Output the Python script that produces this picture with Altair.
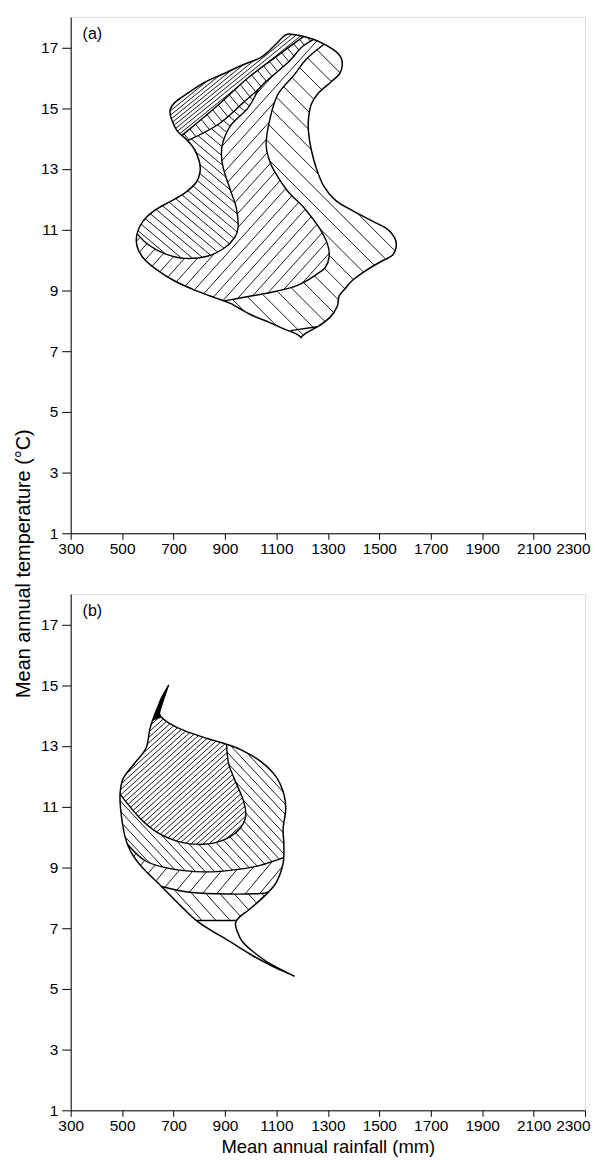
import numpy as np
import pandas as pd
import altair as alt

# ---------------- axes ----------------
X_TICKS = [300, 500, 700, 900, 1100, 1300, 1500, 1700, 1900, 2100, 2300]
Y_TICKS = [1, 3, 5, 7, 9, 11, 13, 15, 17]
X_DOMAIN = [300, 2300]
Y_DOMAIN = [1, 18]
PANEL_LABELS = ["(a)", "(b)"]
Y_TITLE = "Mean annual temperature (°C)"
X_TITLE = "Mean annual rainfall (mm)"

# ---------------- panel (a) ----------------
A_OUT_X = [1136, 1173, 1218, 1268, 1320, 1350, 1356, 1345, 1311, 1262, 1236, 1225, 1225, 1236, 1255, 1284, 1329,
           1396, 1477, 1529, 1559, 1566, 1551, 1514, 1455, 1396, 1366, 1344, 1336, 1307, 1262, 1218, 1196, 1196,
           1173, 1129, 1070, 995, 921, 862, 773, 699, 625, 580, 558, 558, 580, 625, 684, 743, 788, 803, 800, 780,
           751, 714, 691, 687, 706, 743, 817, 892, 966, 1040, 1092]
A_OUT_Y = [17.41, 17.41, 17.33, 17.18, 16.93, 16.68, 16.40, 16.12, 15.85, 15.48, 15.13, 14.66, 14.19, 13.61, 13.02,
           12.43, 11.97, 11.62, 11.26, 11.03, 10.74, 10.45, 10.15, 9.98, 9.69, 9.33, 9.04, 8.81, 8.46, 8.10, 7.81,
           7.61, 7.46, 7.46, 7.58, 7.73, 7.95, 8.22, 8.57, 8.75, 9.04, 9.33, 9.74, 10.09, 10.45, 10.86, 11.26, 11.62,
           11.91, 12.20, 12.55, 12.90, 13.25, 13.66, 13.96, 14.25, 14.66, 14.95, 15.19, 15.42, 15.83, 16.12, 16.41,
           16.67, 17.05]
A_S1_X = [733, 860, 989, 1118, 1205]
A_S1_Y = [14.10, 15.00, 15.99, 16.81, 17.35]
A_S2_X = [755, 873, 970, 1030, 1060, 1150, 1195, 1243]
A_S2_Y = [13.93, 14.46, 15.17, 15.62, 15.88, 16.54, 16.98, 17.25]
A_C2_X = [1030, 989, 925, 893, 886, 893, 918, 944, 951, 937, 899, 835, 744, 667, 602, 560]
A_C2_Y = [15.62, 15.00, 14.46, 13.91, 13.50, 13.03, 12.37, 11.71, 11.06, 10.73, 10.40, 10.13, 10.05, 10.20, 10.50, 10.85]
A_C3_X = [1285, 1215, 1170, 1105, 1073, 1060, 1072, 1092, 1144, 1208, 1266, 1299, 1305, 1290, 1260, 1215, 1170,
          1100, 1041, 980, 930, 893]
A_C3_Y = [17.10, 16.60, 16.10, 15.44, 14.57, 13.80, 13.30, 12.92, 12.26, 11.71, 11.06, 10.51, 10.10, 9.75, 9.55,
          9.30, 9.12, 8.97, 8.87, 8.78, 8.70, 8.65]
A_TIP_X = [1155, 1258]
A_TIP_Y = [7.67, 7.80]

# ---------------- panel (b) ----------------
B_OUT_X = [678, 678, 668, 653, 645, 653, 682, 742, 831, 906, 965, 1040, 1099, 1129, 1136, 1126, 1129, 1126, 1099,
           1054, 994, 956, 941, 947, 968, 1010, 1080, 1159, 1159, 1085, 1010, 920, 801, 727, 653, 578, 534, 511,
           496, 492, 504, 548, 593, 608, 623, 638, 653]
B_OUT_Y = [14.95, 14.95, 14.70, 14.32, 14.07, 13.94, 13.75, 13.50, 13.24, 13.05, 12.86, 12.48, 11.98, 11.41, 10.90,
           10.27, 9.76, 9.13, 8.50, 8.06, 7.61, 7.36, 7.17, 6.90, 6.55, 6.22, 5.80, 5.46, 5.46, 5.74, 6.08, 6.55,
           7.17, 7.74, 8.37, 9.00, 9.51, 10.02, 10.78, 11.41, 11.92, 12.42, 12.93, 13.56, 13.94, 14.26, 14.57]
B_WEDGE_X = [619, 653]
B_WEDGE_Y = [13.85, 13.94]
B_C1_X = [492, 566, 638, 727, 816, 891, 951, 980, 973, 936, 914, 906]
B_C1_Y = [11.41, 10.65, 10.14, 9.83, 9.76, 9.89, 10.21, 10.65, 11.16, 11.92, 12.42, 13.05]
B_C2_X = [522, 593, 697, 816, 920, 1025, 1127]
B_C2_Y = [9.75, 9.20, 8.94, 8.85, 8.90, 9.04, 9.32]
B_C3_X = [653, 772, 920, 1040, 1068]
B_C3_Y = [8.37, 8.17, 8.12, 8.14, 8.20]
B_SEG_X = [791, 947]
B_SEG_Y = [7.25, 7.25]

# ---------------- geometry helpers (pixel space of the plot area) ----------------
W, H = 517, 519
K = 1.0 / 6.0  # cardinal spline, tension 0 (same as Vega's "cardinal")
TS = np.linspace(0, 1, 10, endpoint=False)


def to_px(xs, ys):
    return np.column_stack([(np.asarray(xs, float) - X_DOMAIN[0]) / (X_DOMAIN[1] - X_DOMAIN[0]) * W,
                            (np.asarray(ys, float) - Y_DOMAIN[0]) / (Y_DOMAIN[1] - Y_DOMAIN[0]) * H])


def to_data(P):
    return (X_DOMAIN[0] + P[:, 0] / W * (X_DOMAIN[1] - X_DOMAIN[0]),
            Y_DOMAIN[0] + P[:, 1] / H * (Y_DOMAIN[1] - Y_DOMAIN[0]))


def bez(p0, c1, c2, p1):
    t = TS[:, None]
    mt = 1 - t
    return mt ** 3 * p0 + 3 * mt ** 2 * t * c1 + 3 * mt * t ** 2 * c2 + t ** 3 * p1


def dense_closed(P):
    n = len(P)
    out = []
    for i in range(n):
        p0, p1, p2, p3 = P[i - 1], P[i], P[(i + 1) % n], P[(i + 2) % n]
        out.append(bez(p1, p1 + K * (p2 - p0), p2 + K * (p1 - p3), p2))
    return np.vstack(out)


def dense_open(P):
    n = len(P)
    if n == 2:
        return np.vstack([P[0], P[1]])
    out = []
    for i in range(n - 1):
        p1, p2 = P[i], P[i + 1]
        c1 = p1 + K * (p2 - P[i - 1]) if i > 0 else p1
        c2 = p2 + K * (p1 - P[i + 2]) if i + 2 < n else p2
        out.append(bez(p1, c1, c2, p2))
    out.append(P[-1:])
    return np.vstack(out)


def nearest(D, p):
    return int(np.argmin(((D - p) ** 2).sum(1)))


def arc(D, pa, pb):
    ia, ib = nearest(D, pa), nearest(D, pb)
    if ib >= ia:
        return D[ia:ib + 1]
    return np.vstack([D[ia:], D[:ib + 1]])


def hatch(poly, angle, spacing):
    th = np.radians(angle)
    d = np.array([np.cos(th), np.sin(th)])
    nv = np.array([-np.sin(th), np.cos(th)])
    A = poly
    B = np.roll(poly, -1, axis=0)
    tA = A @ nv
    tB = B @ nv
    segs = []
    k0 = int(np.floor(tA.min() / spacing)) - 1
    k1 = int(np.ceil(tA.max() / spacing)) + 1
    for k in range(k0, k1 + 1):
        c = (k + 0.5) * spacing
        m = ((tA <= c) & (tB > c)) | ((tB <= c) & (tA > c))
        if m.sum() < 2:
            continue
        u = (c - tA[m]) / (tB[m] - tA[m])
        pts = A[m] + u[:, None] * (B[m] - A[m])
        q = np.sort(pts @ d)
        for j in range(0, len(q) - 1, 2):
            if q[j + 1] - q[j] < 0.6:
                continue
            segs.append((c * nv + q[j] * d, c * nv + q[j + 1] * d))
    return segs


def seg_rows(segs, width):
    rows = []
    for p, q in segs:
        x1, y1 = to_data(p[None, :])
        x2, y2 = to_data(q[None, :])
        rows.append({"x": float(x1[0]), "y": float(y1[0]), "x2": float(x2[0]), "y2": float(y2[0]), "w": width})
    return rows


# ---------------- panel (a) regions ----------------
a_out = dense_closed(to_px(A_OUT_X, A_OUT_Y))
a_s1 = dense_open(to_px(A_S1_X, A_S1_Y))
a_s2 = dense_open(to_px(A_S2_X, A_S2_Y))
a_c2 = dense_open(to_px(A_C2_X, A_C2_Y))
a_c3 = dense_open(to_px(A_C3_X, A_C3_Y))
jn = nearest(a_s2, a_c2[0])

a_r1 = np.vstack([arc(a_out, a_s1[0], a_s1[-1]), a_s1[::-1]])
a_r2 = np.vstack([arc(a_out, a_s2[0], a_s1[0]), a_s1, arc(a_out, a_s1[-1], a_s2[-1]), a_s2[::-1]])
a_r3 = np.vstack([arc(a_out, a_c2[-1], a_s2[0]), a_s2[:jn + 1], a_c2])
a_r4 = np.vstack([a_s2[jn:], arc(a_out, a_s2[-1], a_c3[0]), a_c3, arc(a_out, a_c3[-1], a_c2[-1]), a_c2[::-1]])
a_r5 = np.vstack([arc(a_out, a_c3[0], a_c3[-1]), a_c3[::-1]])

HW = 0.9
a_hatch = []
a_hatch += seg_rows(hatch(a_r1, 39, 3.4), HW)
a_hatch += seg_rows(hatch(a_r2, -51, 7.5), HW)
a_hatch += seg_rows(hatch(a_r3, -40, 7.0), HW)
a_hatch += seg_rows(hatch(a_r4, 48, 9.5), HW)
a_hatch += seg_rows(hatch(a_r5, -45, 12.5), HW)

# ---------------- panel (b) regions ----------------
b_out = dense_closed(to_px(B_OUT_X, B_OUT_Y))
b_w = to_px(B_WEDGE_X, B_WEDGE_Y)
b_c1 = dense_open(to_px(B_C1_X, B_C1_Y))
b_c2 = dense_open(to_px(B_C2_X, B_C2_Y))
b_c3 = dense_open(to_px(B_C3_X, B_C3_Y))
b_sg = dense_open(to_px(B_SEG_X, B_SEG_Y))

b_black = arc(b_out, b_w[0], b_w[1])
b_r1 = np.vstack([arc(b_out, b_w[1], b_c1[-1]), b_c1[::-1], arc(b_out, b_c1[0], b_w[0])])
b_r2 = np.vstack([b_c1, arc(b_out, b_c1[-1], b_c2[-1]), b_c2[::-1], arc(b_out, b_c2[0], b_c1[0])])
b_r3 = np.vstack([b_c2, arc(b_out, b_c2[-1], b_c3[-1]), b_c3[::-1], arc(b_out, b_c3[0], b_c2[0])])
b_r4 = np.vstack([b_c3, arc(b_out, b_c3[-1], b_sg[-1]), b_sg[::-1], arc(b_out, b_sg[0], b_c3[0])])

b_hatch = []
b_hatch += seg_rows(hatch(b_black, 45, 0.7), 1.3)
b_hatch += seg_rows(hatch(b_r1, 42, 4.0), HW)
b_hatch += seg_rows(hatch(b_r2, -47, 7.0), HW)
b_hatch += seg_rows(hatch(b_r3, 50, 11.0), HW)
b_hatch += seg_rows(hatch(b_r4, -48, 10.5), HW)


def curve_rows(curves):
    rows = []
    for cid, (xs, ys) in enumerate(curves):
        for i, (x, y) in enumerate(zip(xs, ys)):
            rows.append({"id": cid, "i": i, "x": x, "y": y})
    return pd.DataFrame(rows)


LABEL_FONT = "Liberation Sans, Arial, sans-serif"
TITLE_FONT = "Liberation Sans, Arial, sans-serif"
COMMON = dict(format="d", grid=False, labelFont=LABEL_FONT, labelFontSize=15.5, labelOverlap=False,
              labelFlush=False, domainColor="black", tickColor="black", labelColor="black",
              titleColor="black", titleFont=TITLE_FONT, titleFontWeight="normal")
LAST_X = X_TICKS[-1]


def make_panel(label, hatch_rows, outer, curves, x_title, y_title):
    xs = alt.Scale(domain=X_DOMAIN, nice=False, zero=False)
    ys = alt.Scale(domain=Y_DOMAIN, nice=False, zero=False)
    x_axis = alt.Axis(values=X_TICKS, title=x_title, tickSize=6, labelPadding=2, titleFontSize=18.5,
                      titlePadding=4,
                      labelAlign={"condition": {"test": f"datum.value >= {LAST_X}", "value": "right"},
                                  "value": "center"},
                      labelOffset={"condition": {"test": f"datum.value >= {LAST_X}", "value": 5},
                                   "value": 0},
                      **COMMON)
    if y_title is not None:
        y_axis = alt.Axis(values=Y_TICKS, title=y_title, tickSize=9, labelPadding=4, titleFontSize=20,
                          titleAngle=270, titleAlign="center", titleBaseline="middle",
                          titleX=-47, titleY=549, **COMMON)
    else:
        y_axis = alt.Axis(values=Y_TICKS, title=None, tickSize=9, labelPadding=4, **COMMON)
    X = alt.X("x:Q", scale=xs, axis=x_axis)
    Y = alt.Y("y:Q", scale=ys, axis=y_axis)

    hatch_layer = alt.Chart(pd.DataFrame(hatch_rows)).mark_rule(color="black").encode(
        x=X, y=Y, x2="x2:Q", y2="y2:Q", strokeWidth=alt.StrokeWidth("w:Q", scale=None))
    outer_layer = alt.Chart(curve_rows([outer])).mark_line(
        color="black", strokeWidth=1.5, interpolate="cardinal-closed", tension=0).encode(
        x=X, y=Y, detail="id:N", order="i:Q")
    curve_layer = alt.Chart(curve_rows(curves)).mark_line(
        color="black", strokeWidth=1.4, interpolate="cardinal", tension=0).encode(
        x=X, y=Y, detail="id:N", order="i:Q")
    text_layer = alt.Chart(pd.DataFrame({"t": [label]})).mark_text(
        align="left", baseline="middle", fontSize=16, font=TITLE_FONT, color="black").encode(
        text="t:N", x=alt.value(12), y=alt.value(17))
    return alt.layer(hatch_layer, outer_layer, curve_layer, text_layer).properties(width=W, height=H)


panel_a = make_panel(PANEL_LABELS[0], a_hatch, (A_OUT_X, A_OUT_Y),
                     [(A_S1_X, A_S1_Y), (A_S2_X, A_S2_Y), (A_C2_X, A_C2_Y), (A_C3_X, A_C3_Y), (A_TIP_X, A_TIP_Y)],
                     None, Y_TITLE)
panel_b = make_panel(PANEL_LABELS[1], b_hatch, (B_OUT_X, B_OUT_Y),
                     [(B_C1_X, B_C1_Y), (B_C2_X, B_C2_Y), (B_C3_X, B_C3_Y), (B_SEG_X, B_SEG_Y)],
                     X_TITLE, None)

chart = alt.vconcat(panel_a, panel_b, spacing=61, bounds="flush",
                    padding={"left": 5, "top": 5, "right": 0, "bottom": 5}).configure_view(
    stroke="black", strokeWidth=1.4).configure(background="white")

chart.save("out.html", embed_options={"renderer": "svg", "actions": False})
